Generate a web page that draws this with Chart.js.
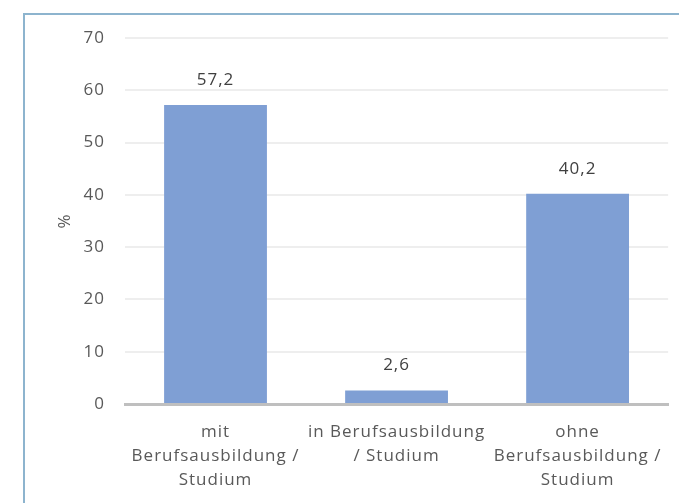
<!DOCTYPE html>
<html>
<head>
<meta charset="utf-8">
<script src="https://cdn.jsdelivr.net/npm/chart.js@4/dist/chart.umd.min.js"></script>
<style>
  html, body { margin: 0; padding: 0; background: #fff; }
  #wrap { position: relative; width: 679px; height: 503px; }
  #frame {
    position: absolute; left: 23px; top: 13px; right: 0; bottom: 0;
    border-left: 2px solid #8db4ce; border-top: 2px solid #8db4ce;
    pointer-events: none;
  }
</style>
</head>
<body>
<div id="wrap">
  <canvas id="chart-bar" width="679" height="503"></canvas>
  <div id="frame"></div>
</div>
<script>
// categories and shares in percent
const categories = [
  ["mit", "Berufsausbildung /", "Studium"],
  ["in Berufsausbildung", "/ Studium"],
  ["ohne", "Berufsausbildung /", "Studium"]
];
const shares = [57.2, 2.6, 40.2];
const yTicks = [0, 10, 20, 30, 40, 50, 60, 70];

const textColor = "#595959";
const fontFamily = "'Open Sans', sans-serif";

// slightly wider letter spacing for all text drawn on the canvas
const spacing = {
  id: "spacing",
  beforeLayout(chart) { chart.ctx.letterSpacing = "1px"; },
  beforeDraw(chart) { chart.ctx.letterSpacing = "1px"; }
};

// value labels above each bar, german decimal comma
const valueLabels = {
  id: "valueLabels",
  afterDatasetsDraw(chart) {
    const ctx = chart.ctx;
    const meta = chart.getDatasetMeta(0);
    ctx.save();
    ctx.fillStyle = "#404040";
    ctx.font = "17px " + fontFamily;
    ctx.textAlign = "center";
    ctx.textBaseline = "middle";
    meta.data.forEach((bar, i) => {
      const v = chart.data.datasets[0].data[i];
      ctx.fillText(v.toFixed(1).replace(".", ","), bar.x, bar.y - 25);
    });
    ctx.restore();
  }
};

var ctx = document.getElementById("chart-bar").getContext("2d");

new Chart(ctx, {
  type: "bar",
  data: {
    labels: categories,
    datasets: [{
      data: shares,
      backgroundColor: "#7f9fd4",
      borderWidth: 0,
      barPercentage: 0.8,
      categoryPercentage: 0.71
    }]
  },
  options: {
    responsive: false,
    animation: false,
    layout: { padding: { top: 38, right: 9, bottom: 0, left: 0 } },
    plugins: { legend: { display: false }, tooltip: { enabled: false } },
    scales: {
      y: {
        min: 0,
        max: 70,
        afterFit: (s) => { s.width = 125; },
        afterBuildTicks: (s) => { s.ticks = yTicks.map(v => ({ value: v })); },
        grid: { color: "#eeeeee", lineWidth: 2, drawTicks: false },
        border: { display: false },
        ticks: {
          padding: 20,
          color: textColor,
          font: { size: 17, family: fontFamily }
        },
        title: {
          display: true,
          text: "%",
          color: textColor,
          padding: { top: 55, bottom: 0 },
          font: { size: 17, family: fontFamily }
        }
      },
      x: {
        afterFit: (s) => { s.height = 99; },
        grid: { display: false, drawTicks: false },
        border: { display: true, color: "#bfbfbf", width: 3 },
        ticks: {
          padding: 16,
          maxRotation: 0,
          autoSkip: false,
          color: textColor,
          font: { size: 17, family: fontFamily, lineHeight: 1.42 }
        }
      }
    }
  },
  plugins: [spacing, valueLabels]
});
</script>
</body>
</html>
